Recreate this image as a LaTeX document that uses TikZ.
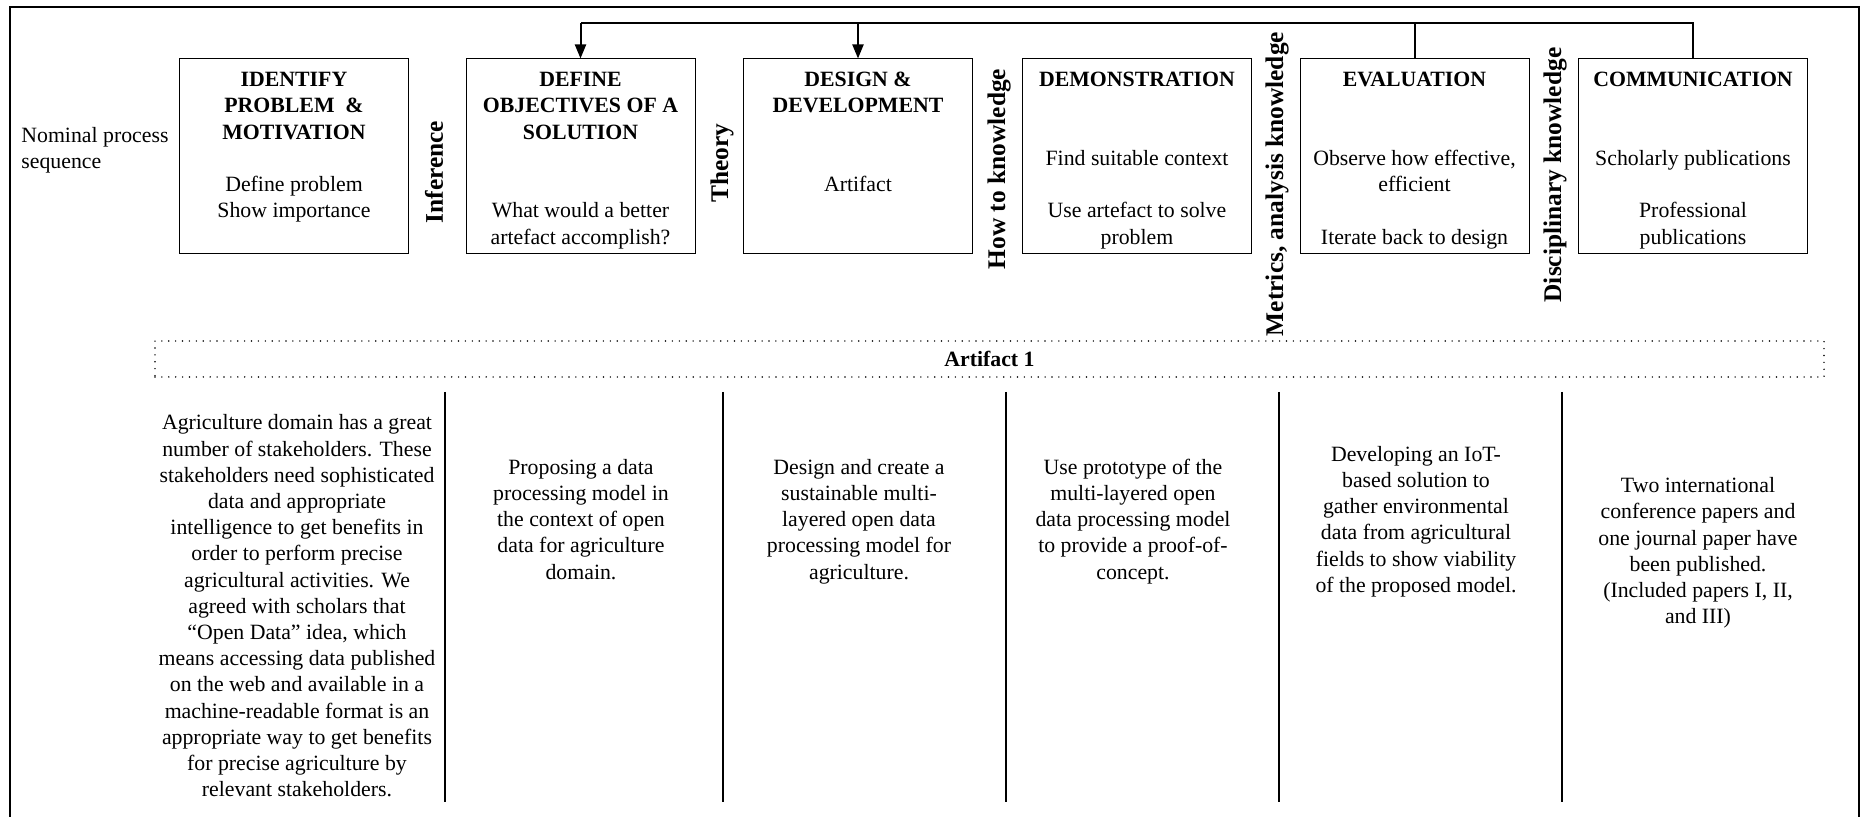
\documentclass[tikz,border=0pt]{standalone}
\usepackage{fontspec}
\setmainfont{Liberation Serif}
\usetikzlibrary{arrows.meta}
\newcommand\tstrut{\rule{0pt}{12.8pt}}
\begin{document}
\begin{tikzpicture}[x=0.5pt,y=-0.5pt,
  stepbox/.style={draw, line width=0.5pt, minimum width=114.5pt, minimum height=97.5pt, inner sep=0pt, align=center, font=\fontsize{10.9}{13.15}\selectfont},
  side/.style={rotate=90, font=\fontsize{12.7}{14}\selectfont\bfseries, inner sep=0pt},
  coltext/.style={align=center, inner sep=0pt, font=\fontsize{10.9}{13.1}\selectfont},
  frameline/.style={line width=1pt},
  sepline/.style={line width=1pt},
  fbline/.style={line width=1pt, line join=miter},
  fbarrow/.style={fbline, -{Triangle[length=7pt,width=5.5pt]}},
]
\useasboundingbox (0,0) rectangle (1865,817);
% outer frame
\draw[frameline] (10,830) -- (10,7) -- (1859,7) -- (1859,830);

% process boxes
\node[stepbox] (b1) at (294,156.5) {\tstrut\textbf{IDENTIFY}\\ \textbf{PROBLEM\ \ \&}\strut\\ \textbf{MOTIVATION}\strut\\ \strut\\ Define problem\strut\\ Show importance\strut\\ \strut};
\node[stepbox] (b2) at (580.5,156.5) {\tstrut\textbf{DEFINE}\\ \textbf{OBJECTIVES OF A}\strut\\ \textbf{SOLUTION}\strut\\ \strut\\ \strut\\ What would a better\strut\\ artefact accomplish?\strut};
\node[stepbox] (b3) at (858,156.5) {\tstrut\textbf{DESIGN \&}\\ \textbf{DEVELOPMENT}\strut\\ \strut\\ \strut\\ Artifact\strut\\ \strut\\ \strut};
\node[stepbox] (b4) at (1137,156.5) {\tstrut\textbf{DEMONSTRATION}\\ \strut\\ \strut\\ Find suitable context\strut\\ \strut\\ Use artefact to solve\strut\\ problem\strut};
\node[stepbox] (b5) at (1414.5,156.5) {\tstrut\textbf{EVALUATION}\\ \strut\\ \strut\\ Observe how effective,\strut\\ efficient\strut\\ \strut\\ Iterate back to design\strut};
\node[stepbox] (b6) at (1693,156.5) {\tstrut\textbf{COMMUNICATION}\\ \strut\\ \strut\\ Scholarly publications\strut\\ \strut\\ Professional\strut\\ publications\strut};

% knowledge labels
\node[side] (l1) at (434,172) {Inference};
\node[side] (l2) at (722,163) {Theory};
\node[side] (l3) at (999,169) {How to knowledge};
\node[side] (l4) at (1277,184) {Metrics, analysis knowledge};
\node[side] (l5) at (1555,175) {Disciplinary knowledge};

\node[anchor=west, align=left, inner sep=0pt, font=\fontsize{10.9}{13.1}\selectfont] (nom) at (21,150) {Nominal process\strut\\ sequence\strut};

% feedback connectors
\coordinate (fb) at (0,22.7);
\draw[fbline] (b6.north) -- (b6.north |- fb) -- (b2.north |- fb);
\draw[fbline] (b5.north) -- (b5.north |- fb);
\draw[fbarrow] (b2.north |- fb) -- (b2.north);
\draw[fbarrow] (b3.north |- fb) -- (b3.north);

% artifact band
\node[draw, dash pattern=on 0pt off 3.45pt, line cap=round, line width=0.8pt, minimum width=834.5pt, minimum height=18pt, inner sep=0pt, font=\fontsize{10.9}{13}\selectfont\bfseries] (art) at (989.5,359) {Artifact 1};

% column separators
\foreach \sx in {445,723,1006,1279,1562} {
  \draw[sepline] (\sx,392) -- (\sx,802);
}

% column texts
\node[coltext] (c1) at (297,608) {Agriculture domain has a great\strut\\ number of stakeholders. These\strut\\ stakeholders need sophisticated\strut\\ data and appropriate\strut\\ intelligence to get benefits in\strut\\ order to perform precise\strut\\ agricultural activities. We\strut\\ agreed with scholars that\strut\\ “Open Data” idea, which\strut\\ means accessing data published\strut\\ on the web and available in a\strut\\ machine-readable format is an\strut\\ appropriate way to get benefits\strut\\ for precise agriculture by\strut\\ relevant stakeholders.\strut};
\node[coltext] (c2) at (581,521.5) {Proposing a data\strut\\ processing model in\strut\\ the context of open\strut\\ data for agriculture\strut\\ domain.\strut};
\node[coltext] (c3) at (859,521.5) {Design and create a\strut\\ sustainable multi-\strut\\ layered open data\strut\\ processing model for\strut\\ agriculture.\strut};
\node[coltext] (c4) at (1133,521.5) {Use prototype of the\strut\\ multi-layered open\strut\\ data processing model\strut\\ to provide a proof-of-\strut\\ concept.\strut};
\node[coltext] (c5) at (1416,521.5) {Developing an IoT-\strut\\ based solution to\strut\\ gather environmental\strut\\ data from agricultural\strut\\ fields to show viability\strut\\ of the proposed model.\strut};
\node[coltext] (c6) at (1698,553) {Two international\strut\\ conference papers and\strut\\ one journal paper have\strut\\ been published.\strut\\ (Included papers I, II,\strut\\ and III)\strut};
\end{tikzpicture}
\end{document}
